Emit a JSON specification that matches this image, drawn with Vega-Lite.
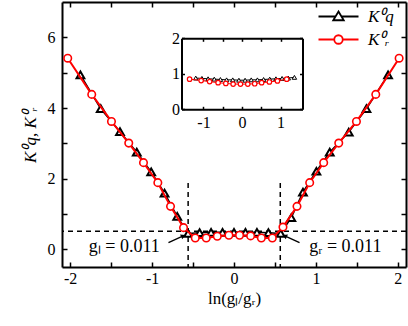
{
  "$schema": "https://vega.github.io/schema/vega-lite/v6.json",
  "width": 344,
  "height": 265,
  "autosize": {"type": "none"},
  "padding": {"left": 62, "top": 2, "right": 2, "bottom": 59},
  "background": "white",
  "config": {
    "view": {"stroke": null},
    "axis": {
      "grid": false,
      "domainColor": "black",
      "domainWidth": 2,
      "tickColor": "black",
      "tickWidth": 1.5,
      "tickSize": -5,
      "labelFont": "Liberation Serif",
      "labelFontSize": 16,
      "labelColor": "black",
      "titleFont": "Liberation Serif",
      "titleFontSize": 17,
      "titleFontWeight": "normal",
      "titleColor": "black"
    }
  },
  "datasets": {
    "main": [
      {"s": "Kq", "x": -1.875, "y": 4.94},
      {"s": "Kq", "x": -1.627, "y": 3.98},
      {"s": "Kq", "x": -1.392, "y": 3.33},
      {"s": "Kq", "x": -1.187, "y": 2.75},
      {"s": "Kq", "x": -1.011, "y": 2.19},
      {"s": "Kq", "x": -0.848, "y": 1.59},
      {"s": "Kq", "x": -0.693, "y": 0.93},
      {"s": "Kq", "x": -0.561, "y": 0.45},
      {"s": "Kq", "x": -0.42, "y": 0.47},
      {"s": "Kq", "x": -0.28, "y": 0.48},
      {"s": "Kq", "x": -0.14, "y": 0.48},
      {"s": "Kq", "x": 0.0, "y": 0.48},
      {"s": "Kq", "x": 0.14, "y": 0.48},
      {"s": "Kq", "x": 0.28, "y": 0.48},
      {"s": "Kq", "x": 0.42, "y": 0.47},
      {"s": "Kq", "x": 0.57, "y": 0.45},
      {"s": "Kq", "x": 0.70, "y": 0.90},
      {"s": "Kq", "x": 0.842, "y": 1.62},
      {"s": "Kq", "x": 1.006, "y": 2.21},
      {"s": "Kq", "x": 1.169, "y": 2.75},
      {"s": "Kq", "x": 1.401, "y": 3.32},
      {"s": "Kq", "x": 1.617, "y": 3.98},
      {"s": "Kq", "x": 1.881, "y": 4.94},
      {"s": "Kr", "x": -2.03, "y": 5.41},
      {"s": "Kr", "x": -1.737, "y": 4.385},
      {"s": "Kr", "x": -1.496, "y": 3.62},
      {"s": "Kr", "x": -1.285, "y": 3.007},
      {"s": "Kr", "x": -1.105, "y": 2.453},
      {"s": "Kr", "x": -0.93, "y": 1.887},
      {"s": "Kr", "x": -0.775, "y": 1.216},
      {"s": "Kr", "x": -0.616, "y": 0.614},
      {"s": "Kr", "x": -0.473, "y": 0.32},
      {"s": "Kr", "x": -0.339, "y": 0.32},
      {"s": "Kr", "x": -0.204, "y": 0.37},
      {"s": "Kr", "x": -0.062, "y": 0.40},
      {"s": "Kr", "x": 0.068, "y": 0.40},
      {"s": "Kr", "x": 0.203, "y": 0.38},
      {"s": "Kr", "x": 0.334, "y": 0.32},
      {"s": "Kr", "x": 0.468, "y": 0.32},
      {"s": "Kr", "x": 0.598, "y": 0.63},
      {"s": "Kr", "x": 0.769, "y": 1.216},
      {"s": "Kr", "x": 0.924, "y": 1.887},
      {"s": "Kr", "x": 1.095, "y": 2.453},
      {"s": "Kr", "x": 1.279, "y": 3.007},
      {"s": "Kr", "x": 1.495, "y": 3.62},
      {"s": "Kr", "x": 1.731, "y": 4.385},
      {"s": "Kr", "x": 2.016, "y": 5.41}
    ],
    "inset": [
      {"s": "Kq", "x": -1.2, "y": 0.88},
      {"s": "Kq", "x": -1.04, "y": 0.87},
      {"s": "Kq", "x": -0.88, "y": 0.86},
      {"s": "Kq", "x": -0.72, "y": 0.85},
      {"s": "Kq", "x": -0.56, "y": 0.84},
      {"s": "Kq", "x": -0.40, "y": 0.83},
      {"s": "Kq", "x": -0.24, "y": 0.83},
      {"s": "Kq", "x": -0.08, "y": 0.82},
      {"s": "Kq", "x": 0.08, "y": 0.82},
      {"s": "Kq", "x": 0.24, "y": 0.83},
      {"s": "Kq", "x": 0.40, "y": 0.83},
      {"s": "Kq", "x": 0.56, "y": 0.84},
      {"s": "Kq", "x": 0.72, "y": 0.85},
      {"s": "Kq", "x": 0.88, "y": 0.86},
      {"s": "Kq", "x": 1.04, "y": 0.87},
      {"s": "Kq", "x": 1.2, "y": 0.88},
      {"s": "Kq", "x": 1.36, "y": 0.9},
      {"s": "Kr", "x": -1.36, "y": 0.85},
      {"s": "Kr", "x": -1.06, "y": 0.81},
      {"s": "Kr", "x": -0.84, "y": 0.78},
      {"s": "Kr", "x": -0.62, "y": 0.75},
      {"s": "Kr", "x": -0.42, "y": 0.73},
      {"s": "Kr", "x": -0.23, "y": 0.71},
      {"s": "Kr", "x": -0.04, "y": 0.71},
      {"s": "Kr", "x": 0.15, "y": 0.71},
      {"s": "Kr", "x": 0.33, "y": 0.72},
      {"s": "Kr", "x": 0.51, "y": 0.75},
      {"s": "Kr", "x": 0.71, "y": 0.77},
      {"s": "Kr", "x": 0.92, "y": 0.8},
      {"s": "Kr", "x": 1.16, "y": 0.85}
    ],
    "notes": [
      {"x": -1.34, "y": 0.08, "t": "gₗ = 0.011"},
      {"x": 1.36, "y": 0.08, "t": "gᵣ = 0.011"}
    ],
    "arrows": [
      {"x": -0.8, "y": 0.19, "x2": -0.62, "y2": 0.38},
      {"x": 0.8, "y": 0.19, "x2": 0.62, "y2": 0.38}
    ],
    "hline": [{"h": 0.51}],
    "vline": [{"v": -0.56}, {"v": 0.565}]
  },
  "layer": [
    {
      "layer": [
        {
          "data": {"name": "hline"},
          "mark": {"type": "rule", "color": "black", "strokeWidth": 1.5, "strokeDash": [5, 4]},
          "encoding": {"y": {"field": "h", "type": "quantitative"}}
        },
        {
          "data": {"name": "vline"},
          "mark": {"type": "rule", "color": "black", "strokeWidth": 1.5, "strokeDash": [5, 4]},
          "encoding": {
            "x": {"field": "v", "type": "quantitative"},
            "y": {"datum": 1.88},
            "y2": {"datum": -0.5}
          }
        },
        {
          "data": {"name": "main"},
          "transform": [{"filter": "datum.s == 'Kq'"}],
          "mark": {"type": "line", "strokeWidth": 1.5},
          "encoding": {
            "x": {"field": "x", "type": "quantitative"},
            "y": {"field": "y", "type": "quantitative"},
            "color": {
              "field": "s",
              "type": "nominal",
              "scale": {"domain": ["Kq", "Kr"], "range": ["black", "#ff0000"]},
              "legend": {
                "orient": "none",
                "legendX": 268,
                "legendY": 6,
                "title": null,
                "padding": 0,
                "symbolSize": 100,
                "symbolStrokeWidth": 1.8,
                "labelOffset": 21,
                "rowPadding": 5,
                "labelFont": "Liberation Serif",
                "labelFontSize": 17,
                "labelFontStyle": "italic",
                "labelColor": "black",
                "labelExpr": "datum.value == 'Kq' ? 'K⁰q' : 'K⁰ᵣ'",
                "encode": {
                  "symbols": {
                    "update": {
                      "shape": {"signal": "datum.value == 'Kq' ? 'M-4,0H-0.6M0.6,0H4M0,-1L1.05,0.75L-1.05,0.75Z' : 'M-4,0H-0.85M0.85,0H4M-0.85,0A0.85,0.85,0,1,0,0.85,0A0.85,0.85,0,1,0,-0.85,0Z'"},
                      "fill": {"value": "white"}
                    }
                  }
                }
              }
            }
          }
        },
        {
          "data": {"name": "main"},
          "transform": [{"filter": "datum.s == 'Kq'"}],
          "mark": {"type": "point", "shape": "triangle-up", "filled": true, "fill": "white", "stroke": "black", "strokeWidth": 2, "size": 60, "opacity": 1},
          "encoding": {
            "x": {"field": "x", "type": "quantitative"},
            "y": {"field": "y", "type": "quantitative"}
          }
        },
        {
          "data": {"name": "main"},
          "transform": [{"filter": "datum.s == 'Kr'"}],
          "mark": {"type": "line", "strokeWidth": 2},
          "encoding": {
            "x": {"field": "x", "type": "quantitative"},
            "y": {"field": "y", "type": "quantitative"},
            "color": {"field": "s", "type": "nominal"}
          }
        },
        {
          "data": {"name": "main"},
          "transform": [{"filter": "datum.s == 'Kr'"}],
          "mark": {"type": "point", "shape": "circle", "filled": true, "fill": "white", "stroke": "#ff0000", "strokeWidth": 1.6, "size": 56, "opacity": 1},
          "encoding": {
            "x": {"field": "x", "type": "quantitative"},
            "y": {"field": "y", "type": "quantitative"}
          }
        },
        {
          "data": {"name": "arrows"},
          "mark": {"type": "rule", "color": "black", "strokeWidth": 1.3},
          "encoding": {
            "x": {"field": "x", "type": "quantitative"},
            "y": {"field": "y", "type": "quantitative"},
            "x2": {"field": "x2"},
            "y2": {"field": "y2"}
          }
        },
        {
          "data": {"name": "arrows"},
          "mark": {"type": "point", "shape": "triangle-up", "filled": true, "color": "black", "size": 28, "opacity": 1},
          "encoding": {
            "x": {"field": "x2", "type": "quantitative"},
            "y": {"field": "y2", "type": "quantitative"},
            "angle": {"condition": {"test": "datum.x2 < 0", "value": 65}, "value": 295}
          }
        },
        {
          "data": {"name": "notes"},
          "mark": {"type": "text", "font": "Liberation Serif", "fontSize": 18, "color": "black"},
          "encoding": {
            "x": {"field": "x", "type": "quantitative"},
            "y": {"field": "y", "type": "quantitative"},
            "text": {"field": "t"}
          }
        }
      ],
      "encoding": {
        "x": {
          "type": "quantitative",
          "scale": {"domain": [-2.1, 2.1], "nice": false, "zero": false},
          "axis": {
            "orient": "bottom",
            "title": "ln(gₗ/gᵣ)",
            "values": [-2, -1.5, -1, -0.5, 0, 0.5, 1, 1.5, 2],
            "labelExpr": "datum.value % 1 === 0 ? '' + datum.value : ''",
            "labelPadding": 8,
            "titlePadding": 4
          }
        },
        "y": {
          "type": "quantitative",
          "scale": {"domain": [-0.5, 7], "nice": false, "zero": false},
          "axis": {
            "orient": "left",
            "title": "K⁰q, K⁰ᵣ",
            "titleFontStyle": "italic",
            "values": [0, 1, 2, 3, 4, 5, 6],
            "labelExpr": "datum.value % 2 === 0 ? '' + datum.value : ''",
            "labelPadding": 12,
            "titlePadding": 8
          }
        }
      }
    },
    {
      "data": {"name": "main"},
      "mark": {"type": "point", "opacity": 0},
      "encoding": {
        "x": {
          "field": "x",
          "type": "quantitative",
          "scale": {"domain": [-2.1, 2.1], "nice": false, "zero": false},
          "axis": {"orient": "top", "title": null, "labels": false, "values": [-2, -1.5, -1, -0.5, 0, 0.5, 1, 1.5, 2]}
        },
        "y": {
          "field": "y",
          "type": "quantitative",
          "scale": {"domain": [-0.5, 7], "nice": false, "zero": false},
          "axis": {"orient": "right", "title": null, "labels": false, "values": [0, 1, 2, 3, 4, 5, 6]}
        }
      }
    },
    {
      "data": {"name": "inset"},
      "layer": [
        {
          "transform": [{"filter": "datum.s == 'Kq'"}],
          "mark": {"type": "line", "color": "black", "strokeWidth": 1},
          "encoding": {}
        },
        {
          "transform": [{"filter": "datum.s == 'Kq'"}],
          "mark": {"type": "point", "shape": "triangle-up", "filled": true, "fill": "white", "stroke": "black", "strokeWidth": 1, "size": 20, "opacity": 1}
        },
        {
          "transform": [{"filter": "datum.s == 'Kr'"}],
          "mark": {"type": "line", "color": "#ff0000", "strokeWidth": 1},
          "encoding": {}
        },
        {
          "transform": [{"filter": "datum.s == 'Kr'"}],
          "mark": {"type": "point", "shape": "circle", "filled": true, "fill": "white", "stroke": "#ff0000", "strokeWidth": 1.2, "size": 20, "opacity": 1}
        }
      ],
      "encoding": {
        "x": {
          "field": "x",
          "type": "quantitative",
          "scale": {"domain": [-1.57, 1.57], "range": [119.5, 240.5], "nice": false, "zero": false},
          "axis": {"orient": "bottom", "offset": -157.7, "title": null, "values": [-1, -0.5, 0, 0.5, 1], "labelExpr": "datum.value % 1 === 0 ? '' + datum.value : ''", "labelPadding": 8, "tickSize": -3}
        },
        "y": {
          "field": "y",
          "type": "quantitative",
          "scale": {"domain": [0, 2], "range": [107.3, 36.3], "nice": false, "zero": false},
          "axis": {"orient": "left", "offset": -119.5, "title": null, "values": [0, 1, 2], "labelExpr": "'' + datum.value", "labelPadding": 5, "tickSize": -3}
        }
      }
    },
    {
      "data": {"name": "inset"},
      "mark": {"type": "point", "opacity": 0},
      "encoding": {
        "x": {
          "field": "x",
          "type": "quantitative",
          "scale": {"domain": [-1.57, 1.57], "range": [119.5, 240.5], "nice": false, "zero": false},
          "axis": {"orient": "top", "offset": -36.3, "title": null, "labels": false, "values": [-1, -0.5, 0, 0.5, 1], "tickSize": -3}
        },
        "y": {
          "field": "y",
          "type": "quantitative",
          "scale": {"domain": [0, 2], "range": [107.3, 36.3], "nice": false, "zero": false},
          "axis": {"orient": "right", "offset": -103.5, "title": null, "labels": false, "values": [0, 1, 2], "tickSize": -3}
        }
      }
    }
  ],
  "resolve": {"scale": {"x": "independent", "y": "independent"}, "axis": {"x": "independent", "y": "independent"}}
}
